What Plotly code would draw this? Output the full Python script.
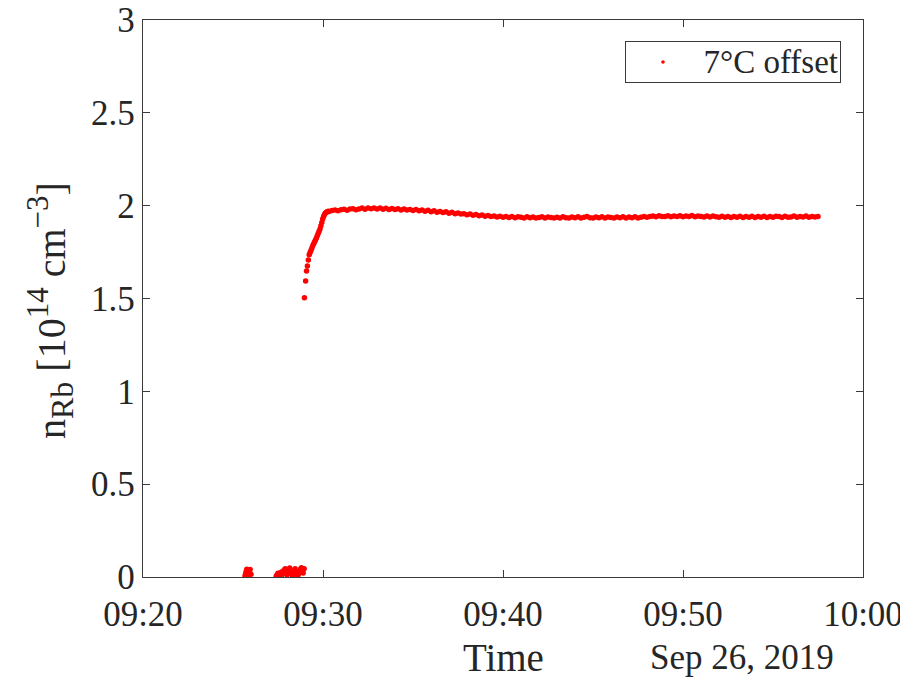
import pandas as pd
import plotly.graph_objects as go

DAY = "2019-09-26 09:20:00"

# Near-zero readings before heating (seconds after 09:20:00, value in 1e14 cm^-3)
early_t = [340, 342, 344, 346, 348, 350, 352, 354, 357, 360,
           444, 447, 450, 453, 456, 459, 462, 465, 468, 471, 474, 477, 480,
           483, 486, 489, 492, 495, 498, 501, 504, 507, 510, 513, 516, 519,
           522, 525, 528, 531, 534, 537]
early_v = [0.005, 0.018, 0.030, 0.042, 0.035, 0.022, 0.012, 0.028, 0.040, 0.015,
           0.004, 0.012, 0.020, 0.006, 0.015, 0.024, 0.010, 0.030, 0.018, 0.038,
           0.045, 0.026, 0.012, 0.022, 0.035, 0.048, 0.030, 0.016, 0.008, 0.020,
           0.034, 0.044, 0.028, 0.015, 0.006, 0.018, 0.030, 0.042, 0.050, 0.036,
           0.022, 0.045]

# Rise after turning on (seconds after 09:20:00)
rise_t = [538, 542, 545, 548, 551, 554, 557, 560, 563, 566, 569, 572, 575,
          578, 581, 584, 587, 590, 593, 596, 599, 602, 605, 608, 611, 614, 617]
rise_v = [1.504, 1.594, 1.648, 1.675, 1.707, 1.735, 1.748, 1.760, 1.772,
          1.785, 1.795, 1.806, 1.815, 1.826, 1.838, 1.850, 1.862, 1.875,
          1.892, 1.910, 1.928, 1.942, 1.952, 1.960, 1.965, 1.967, 1.970]

# Main record, sampled every 10 s from 09:30:20
main_start_s = 620
main_step_s = 10
main_v = [
    1.968, 1.974, 1.977, 1.973,
    1.978, 1.981, 1.975, 1.982, 1.984, 1.978,
    1.982, 1.987, 1.981, 1.988, 1.983, 1.987,
    1.982, 1.987, 1.981, 1.986, 1.980, 1.985,
    1.979, 1.984, 1.977, 1.982, 1.976, 1.980,
    1.974, 1.979, 1.972, 1.976, 1.970, 1.975,
    1.967, 1.972, 1.965, 1.969, 1.963, 1.967,
    1.959, 1.964, 1.957, 1.961, 1.955, 1.957,
    1.951, 1.955, 1.948, 1.952, 1.946, 1.950,
    1.943, 1.947, 1.941, 1.945, 1.939, 1.943,
    1.937, 1.941, 1.936, 1.941, 1.935, 1.940,
    1.937, 1.934, 1.940, 1.935, 1.939, 1.934,
    1.936, 1.940, 1.934, 1.939, 1.936, 1.933,
    1.938, 1.934, 1.940, 1.935, 1.934, 1.939,
    1.935, 1.940, 1.934, 1.938, 1.941, 1.935,
    1.934, 1.939, 1.935, 1.940, 1.934, 1.939,
    1.936, 1.933, 1.939, 1.935, 1.940, 1.934,
    1.939, 1.935, 1.940, 1.934, 1.938, 1.941,
    1.938, 1.942, 1.944, 1.940, 1.946, 1.941,
    1.941, 1.946, 1.940, 1.945, 1.941, 1.946,
    1.940, 1.945, 1.941, 1.947, 1.940, 1.945,
    1.941, 1.939, 1.945, 1.939, 1.944, 1.940,
    1.938, 1.943, 1.937, 1.942, 1.936, 1.941,
    1.938, 1.943, 1.936, 1.942, 1.938, 1.943,
    1.936, 1.942, 1.938, 1.943, 1.936, 1.941,
    1.938, 1.943, 1.941, 1.936, 1.943, 1.938,
    1.939, 1.944, 1.937, 1.942, 1.939, 1.944,
    1.938, 1.942, 1.939, 1.941,
]

x_ticks = ["09:20", "09:30", "09:40", "09:50", "10:00"]
y_ticks = [0, 0.5, 1, 1.5, 2, 2.5, 3]
y_ticktext = ["0", "0.5", "1", "1.5", "2", "2.5", "3"]
legend_label = "7°C offset"

t0 = pd.Timestamp(DAY)
all_s = early_t + rise_t + [main_start_s + main_step_s * i for i in range(len(main_v))]
all_v = early_v + rise_v + main_v
times = [t0 + pd.Timedelta(seconds=s) for s in all_s]

FONT = "Liberation Serif, Times New Roman, serif"
AX = "#3a3a3a"
TXT = "#262626"

# page is offset by the 8px body margin; plot frame at page x 143..863, y 20..577
L, R, T, B = 143, 863, 20, 577
PW, PH = R - L, B - T


def px(x):
    return (x - L) / PW


def py(y):
    return (B - y) / PH


fig = go.Figure()
fig.add_trace(go.Scatter(
    x=times, y=all_v, mode="markers", name=legend_label, showlegend=False,
    marker=dict(color="#ff0000", size=5.5, line=dict(width=0)),
))

tickvals = [pd.Timestamp("2019-09-26 " + s) for s in x_ticks]

axis_common = dict(
    showgrid=False, zeroline=False, automargin=False,
    ticklabeloverflow="allow",
    showline=True, linecolor=AX, linewidth=1.3, mirror="ticks",
    ticks="inside", ticklen=7, tickwidth=1.3, tickcolor=AX,
    tickfont=dict(family=FONT, size=35, color=TXT),
)

fig.update_layout(
    width=900, height=670,
    margin=dict(l=L - 8, r=900 - (R - 8), t=T - 8, b=670 - (B - 8)),
    paper_bgcolor="white", plot_bgcolor="white",
    font=dict(family=FONT, size=34, color=TXT),
    showlegend=False,
    xaxis=dict(
        type="date",
        range=[t0, pd.Timestamp("2019-09-26 10:00:00")],
        tickvals=tickvals, ticktext=x_ticks,
        ticklabelstandoff=6,
        **axis_common,
    ),
    yaxis=dict(
        range=[0, 3],
        tickvals=y_ticks, ticktext=y_ticktext,
        **axis_common,
    ),
    shapes=[
        dict(type="circle", xref="paper", yref="paper",
             xsizemode="pixel", ysizemode="pixel",
             xanchor=px(663), yanchor=py(62),
             x0=-1.8, x1=1.8, y0=-1.8, y1=1.8,
             fillcolor="#ff0000", line=dict(width=0)),
    ],
    annotations=[
        dict(text=legend_label, xref="paper", yref="paper", x=px(841), y=py(41),
             xanchor="right", yanchor="top", showarrow=False,
             width=210, height=36, align="right", valign="middle",
             bordercolor=AX, borderwidth=1, borderpad=2, bgcolor="rgba(0,0,0,0)",
             font=dict(family=FONT, size=33, color=TXT)),
        dict(text="Time", xref="paper", yref="paper", x=0.5, y=py(657),
             xanchor="center", yanchor="middle", showarrow=False,
             font=dict(family=FONT, size=39, color=TXT)),
        dict(text="Sep 26, 2019", xref="paper", yref="paper", x=px(742),
             y=py(657), xanchor="center", yanchor="middle", showarrow=False,
             font=dict(family=FONT, size=35, color=TXT)),
        dict(text=("n<sub><span style='font-size:32px'>Rb</span></sub> "
                   "[10<sup><span style='font-size:31px'>14</span></sup> "
                   "cm<sup><span style='font-size:31px'>\u22123</span></sup>]"),
             xref="paper", yref="paper", x=px(50), y=py(310),
             xanchor="center", yanchor="middle", textangle=-90, showarrow=False,
             font=dict(family=FONT, size=40, color=TXT)),
    ],
)

fig.write_html("out.html")
